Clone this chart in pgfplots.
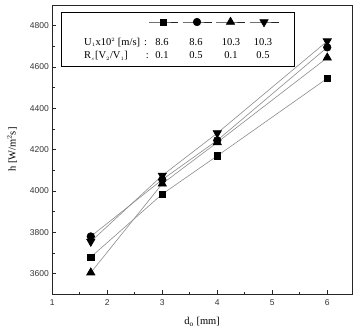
\documentclass[border=0pt]{standalone}
\usepackage{fontspec}
\setmainfont{Liberation Serif}
\newfontfamily\sansf{Liberation Sans}
\usepackage{pgfplots}
\pgfplotsset{compat=1.18}
\usetikzlibrary{plotmarks}

\begin{document}
\begin{tikzpicture}[x=1pt,y=1pt]
\path[use as bounding box] (-52.3,-39.7) rectangle (306.7,294.3);
\begin{axis}[
  at={(0,0)}, anchor=south west,
  scale only axis, width=299.7pt, height=289.3pt,
  xmin=1, xmax=6.45, ymin=3500, ymax=4900,
  xtick={1,2,3,4,5,6}, minor xtick={1.5,2.5,3.5,4.5,5.5},
  ytick={3600,3800,...,4800}, minor ytick={3500,3700,...,4900},
  tick pos=left, tick align=inside,
  major tick length=4pt, minor tick length=2.5pt,
  axis line style={line width=0.8pt, black!85},
  every tick/.style={black!85, line width=0.6pt},
  /pgf/number format/assume math mode=true,
  /pgf/number format/1000 sep={},
  tick label style={font=\sansf\fontsize{8.5}{10}\selectfont, black!80},
  xticklabel style={yshift=-2pt},
  label style={font=\fontsize{10.5}{12}\selectfont},
  xlabel={d$_{\mathrm{o}}$ [mm]},
  ylabel={h [W/m$^{2}$s]},
  xlabel style={at={(axis description cs:0.5,-0.0947)}, anchor=center},
  ylabel style={at={(axis description cs:-0.1345,0.5)}, anchor=center},
  clip=false,
  every axis plot/.append style={line width=0.6pt, color=black!45},
  legend columns=4,
  legend style={at={(axis description cs:0.3217,0.9412)}, anchor=west,
     draw=none, fill=none, inner sep=0pt, outer sep=0pt,
     nodes={inner sep=0pt, outer sep=0pt},
     column sep=0pt,
     /tikz/every even column/.append style={column sep=2.9pt}},
  legend image code/.code={
     \draw[mark repeat=2, mark phase=2, #1]
       plot coordinates {(0pt,0pt) (14.5pt,0pt) (29pt,0pt)};},
  legend image post style={black!85, line width=0.6pt},
]
% legend panel
\draw[line width=1.1pt, fill=white] (axis description cs:0.0314,0.7867) rectangle (axis description cs:0.8081,0.9748);

\addplot[mark=square*, mark size=3.2pt, mark options={solid, fill=black, draw=black}]
  coordinates {(1.7,3680) (3,3985) (4,4170) (6,4545)};
\addlegendentry{\mbox{}}
\addplot[mark=*, mark size=3.8pt, mark options={solid, fill=black, draw=black}]
  coordinates {(1.7,3780) (3,4055) (4,4245) (6,4695)};
\addlegendentry{\mbox{}}
\addplot[mark=triangle*, mark size=4.8pt, mark options={solid, fill=black, draw=black}]
  coordinates {(1.7,3605) (3,4035) (4,4235) (6,4645)};
\addlegendentry{\mbox{}}
\addplot[mark=triangle*, mark size=4.8pt, mark options={solid, fill=black, draw=black, rotate=180}]
  coordinates {(1.7,3755) (3,4075) (4,4280) (6,4725)};
\addlegendentry{\mbox{}}
\end{axis}

% parameter table inside the legend panel
\begin{scope}[every node/.style={font=\fontsize{10.5}{12}\selectfont, inner sep=0pt}]
\node[anchor=base west] at (31.7,249) {U$_{\scriptscriptstyle 1}$x10$^{\scriptscriptstyle 2}$ [m/s]};
\node[anchor=base west] at (31.7,235.3) {R$_{\scriptscriptstyle s}$[V$_{\scriptscriptstyle 2}$/V$_{\scriptscriptstyle 1}$]};
\node[anchor=base] at (93.4,249) {:};
\node[anchor=base] at (95.0,235.3) {:};
\node[anchor=base] at (109.7,249) {8.6};
\node[anchor=base] at (143.7,249) {8.6};
\node[anchor=base] at (178.7,249) {10.3};
\node[anchor=base] at (210.7,249) {10.3};
\node[anchor=base] at (109.7,235.3) {0.1};
\node[anchor=base] at (143.7,235.3) {0.5};
\node[anchor=base] at (178.7,235.3) {0.1};
\node[anchor=base] at (210.7,235.3) {0.5};
\end{scope}
\end{tikzpicture}
\end{document}
